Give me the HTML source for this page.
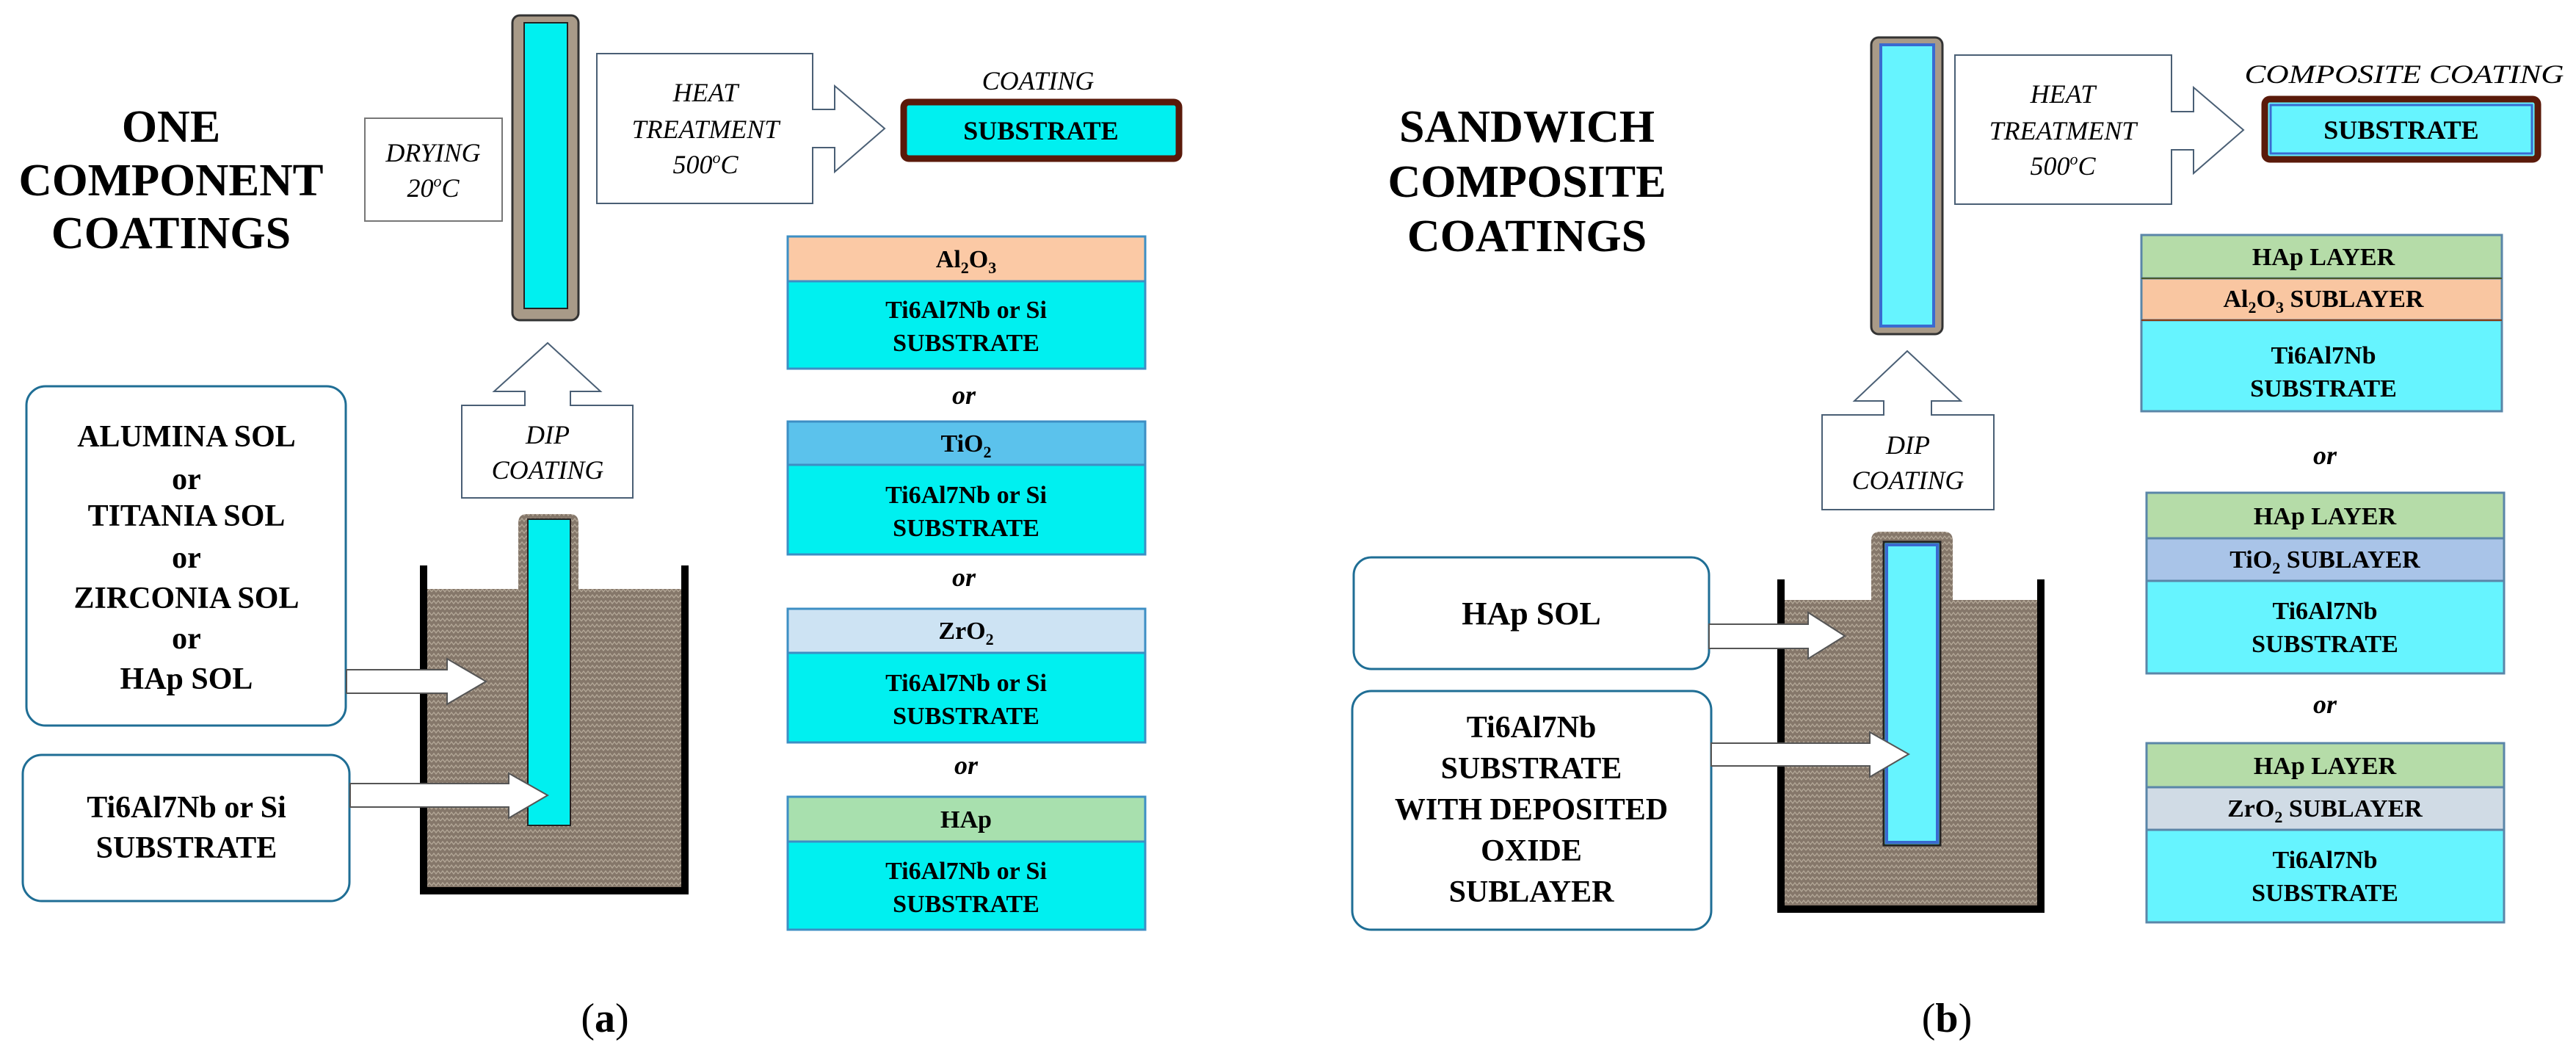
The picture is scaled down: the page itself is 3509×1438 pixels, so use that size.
<!DOCTYPE html>
<html><head><meta charset="utf-8"><style>
html,body{margin:0;padding:0;background:#fff;}
svg{display:block;font-family:"Liberation Serif","DejaVu Serif",serif;}
svg text{font-family:"Liberation Serif","DejaVu Serif",serif;}
.b{font-weight:bold;}
.i{font-style:italic;}
</style></head><body>
<svg width="3509" height="1438" viewBox="0 0 3509 1438" xmlns="http://www.w3.org/2000/svg" font-family="Liberation Serif, DejaVu Serif, serif">
<defs>
<pattern id="liq" width="12" height="8" patternUnits="userSpaceOnUse">
<rect width="12" height="8" fill="#85776a"/>
<path d="M0 6 L3 2 L6 6 L9 2 L12 6" fill="none" stroke="#b3a797" stroke-width="1.3"/>
</pattern>
</defs>

<!-- ================= LEFT PANEL (a) ================= -->
<g text-anchor="middle">
<text x="233" y="193" font-size="62" class="b">ONE</text>
<text x="233" y="266" font-size="62" class="b" textLength="415" lengthAdjust="spacingAndGlyphs">COMPONENT</text>
<text x="233" y="338" font-size="62" class="b">COATINGS</text>
</g>

<rect x="497" y="161" width="187" height="140" fill="#fff" stroke="#777" stroke-width="2"/>
<text x="590" y="220" font-size="36" class="i" text-anchor="middle">DRYING</text>
<text x="590" y="268" font-size="36" class="i" text-anchor="middle">20<tspan font-size="22" dy="-14">o</tspan><tspan dy="14">C</tspan></text>

<rect x="698" y="21" width="90" height="415" rx="10" fill="#a89a88" stroke="#333" stroke-width="3"/>
<rect x="714" y="31" width="59" height="389" fill="#00f0f0" stroke="#222" stroke-width="2"/>

<path d="M813 73 L1107 73 L1107 149 L1137 149 L1137 117 L1205 175 L1137 234 L1137 201 L1107 201 L1107 277 L813 277 Z" fill="#fff" stroke="#4a5f75" stroke-width="2"/>
<g text-anchor="middle" font-size="36">
<text x="961" y="138" class="i">HEAT</text>
<text x="961" y="188" class="i">TREATMENT</text>
<text x="961" y="236" class="i">500<tspan font-size="22" dy="-14">o</tspan><tspan dy="14">C</tspan></text>
</g>

<text x="1414" y="122" font-size="36" class="i" text-anchor="middle">COATING</text>
<rect x="1231" y="139" width="375" height="77" rx="7" fill="#00f0f0" stroke="#5a1a0a" stroke-width="9"/>
<text x="1418" y="190" font-size="36" class="b" text-anchor="middle">SUBSTRATE</text>

<g stroke="#3d8fc4" stroke-width="3">
<rect x="1073" y="322" width="487" height="61" fill="#fbc9a5"/>
<rect x="1073" y="383" width="487" height="119" fill="#00f0f0"/>
<rect x="1073" y="574" width="487" height="59" fill="#5bc2ec"/>
<rect x="1073" y="633" width="487" height="122" fill="#00f0f0"/>
<rect x="1073" y="829" width="487" height="60" fill="#cde3f3"/>
<rect x="1073" y="889" width="487" height="122" fill="#00f0f0"/>
<rect x="1073" y="1085" width="487" height="61" fill="#a8e0ae"/>
<rect x="1073" y="1146" width="487" height="120" fill="#00f0f0"/>
</g>
<g text-anchor="middle" font-size="34">
<text x="1316" y="364" class="b">Al<tspan font-size="22" dy="8">2</tspan><tspan dy="-8">O</tspan><tspan font-size="22" dy="8">3</tspan></text>
<text x="1316" y="433" class="b">Ti6Al7Nb or Si</text>
<text x="1316" y="478" class="b">SUBSTRATE</text>
<text x="1316" y="615" class="b">TiO<tspan font-size="22" dy="8">2</tspan></text>
<text x="1316" y="685" class="b">Ti6Al7Nb or Si</text>
<text x="1316" y="730" class="b">SUBSTRATE</text>
<text x="1316" y="870" class="b">ZrO<tspan font-size="22" dy="8">2</tspan></text>
<text x="1316" y="941" class="b">Ti6Al7Nb or Si</text>
<text x="1316" y="986" class="b">SUBSTRATE</text>
<text x="1316" y="1127" class="b">HAp</text>
<text x="1316" y="1197" class="b">Ti6Al7Nb or Si</text>
<text x="1316" y="1242" class="b">SUBSTRATE</text>
</g>
<g text-anchor="middle" font-size="36">
<text x="1313" y="550" class="b i">or</text>
<text x="1313" y="798" class="b i">or</text>
<text x="1316" y="1054" class="b i">or</text>
</g>

<path d="M746 467 L818 533 L777 533 L777 552 L862 552 L862 678 L629 678 L629 552 L715 552 L715 533 L673 533 Z" fill="#fff" stroke="#4a5f75" stroke-width="2"/>
<text x="746" y="604" font-size="36" class="i" text-anchor="middle">DIP</text>
<text x="746" y="652" font-size="36" class="i" text-anchor="middle">COATING</text>

<rect x="582" y="802" width="347" height="407" fill="url(#liq)"/>
<path d="M706 802 L706 712 Q706 700 718 700 L776 700 Q788 700 788 712 L788 802 Z" fill="url(#liq)"/>
<path d="M577 770 L577 1213 L933 1213 L933 770" fill="none" stroke="#000" stroke-width="10"/>
<rect x="719" y="707" width="58" height="417" fill="#00f0f0" stroke="#222" stroke-width="2"/>

<rect x="36" y="526" width="435" height="462" rx="26" fill="#fff" stroke="#1f6e95" stroke-width="3"/>
<g text-anchor="middle" font-size="42">
<text x="254" y="608" class="b">ALUMINA SOL</text>
<text x="254" y="666" class="b">or</text>
<text x="254" y="716" class="b">TITANIA SOL</text>
<text x="254" y="773" class="b">or</text>
<text x="254" y="828" class="b">ZIRCONIA SOL</text>
<text x="254" y="883" class="b">or</text>
<text x="254" y="938" class="b">HAp SOL</text>
</g>
<rect x="31" y="1028" width="445" height="199" rx="26" fill="#fff" stroke="#1f6e95" stroke-width="3"/>
<text x="254" y="1113" font-size="42" class="b" text-anchor="middle">Ti6Al7Nb or Si</text>
<text x="254" y="1168" font-size="42" class="b" text-anchor="middle">SUBSTRATE</text>

<path d="M472 912 L609 912 L609 897 L662 928 L609 959 L609 944 L472 944 Z" fill="#fff" stroke="#555" stroke-width="2"/>
<path d="M477 1067 L693 1067 L693 1053 L746 1083 L693 1114 L693 1099 L477 1099 Z" fill="#fff" stroke="#555" stroke-width="2"/>

<text x="824" y="1405" font-size="56" text-anchor="middle">(<tspan class="b">a</tspan>)</text>

<!-- ================= RIGHT PANEL (b) ================= -->
<g text-anchor="middle">
<text x="2080" y="193" font-size="62" class="b">SANDWICH</text>
<text x="2080" y="268" font-size="62" class="b">COMPOSITE</text>
<text x="2080" y="342" font-size="62" class="b">COATINGS</text>
</g>

<rect x="2549" y="51" width="97" height="404" rx="10" fill="#a89a88" stroke="#333" stroke-width="3"/>
<rect x="2562" y="61" width="72" height="383" fill="#66f4ff" stroke="#3a6ad0" stroke-width="4"/>

<path d="M2663 75 L2958 75 L2958 152 L2988 152 L2988 119 L3056 177 L2988 236 L2988 204 L2958 204 L2958 278 L2663 278 Z" fill="#fff" stroke="#4a5f75" stroke-width="2"/>
<g text-anchor="middle" font-size="36">
<text x="2810" y="140" class="i">HEAT</text>
<text x="2810" y="190" class="i">TREATMENT</text>
<text x="2810" y="238" class="i">500<tspan font-size="22" dy="-14">o</tspan><tspan dy="14">C</tspan></text>
</g>
<text x="3275" y="113" font-size="36" class="i" text-anchor="middle" textLength="435" lengthAdjust="spacingAndGlyphs">COMPOSITE COATING</text>
<rect x="3085" y="135" width="372" height="82" rx="7" fill="#66f4ff" stroke="#5a1a0a" stroke-width="9"/>
<rect x="3093" y="143" width="356" height="66" fill="none" stroke="#3a6ad0" stroke-width="3"/>
<text x="3271" y="189" font-size="36" class="b" text-anchor="middle">SUBSTRATE</text>

<g stroke="#5a86a8" stroke-width="3">
<rect x="2917" y="320" width="491" height="59" fill="#b5dca8"/>
<rect x="2917" y="379" width="491" height="57" fill="#f9c6a1"/>
<rect x="2917" y="436" width="491" height="124" fill="#66f4ff"/>
<rect x="2924" y="671" width="487" height="62" fill="#b5dca8"/>
<rect x="2924" y="733" width="487" height="58" fill="#a9c4e8"/>
<rect x="2924" y="791" width="487" height="126" fill="#66f4ff"/>
<rect x="2924" y="1012" width="487" height="60" fill="#b5dca8"/>
<rect x="2924" y="1072" width="487" height="58" fill="#d0dbe5"/>
<rect x="2924" y="1130" width="487" height="126" fill="#66f4ff"/>
</g>
<line x1="2917" y1="379" x2="3408" y2="379" stroke="#4a5a2a" stroke-width="2"/>
<line x1="2917" y1="436" x2="3408" y2="436" stroke="#8a3a10" stroke-width="2"/>
<g text-anchor="middle" font-size="34">
<text x="3165" y="361" class="b">HAp LAYER</text>
<text x="3165" y="418" class="b">Al<tspan font-size="22" dy="8">2</tspan><tspan dy="-8">O</tspan><tspan font-size="22" dy="8">3</tspan><tspan dy="-8"> SUBLAYER</tspan></text>
<text x="3165" y="495" class="b">Ti6Al7Nb</text>
<text x="3165" y="540" class="b">SUBSTRATE</text>
<text x="3167" y="714" class="b">HAp LAYER</text>
<text x="3167" y="773" class="b">TiO<tspan font-size="22" dy="8">2</tspan><tspan dy="-8"> SUBLAYER</tspan></text>
<text x="3167" y="843" class="b">Ti6Al7Nb</text>
<text x="3167" y="888" class="b">SUBSTRATE</text>
<text x="3167" y="1054" class="b">HAp LAYER</text>
<text x="3167" y="1112" class="b">ZrO<tspan font-size="22" dy="8">2</tspan><tspan dy="-8"> SUBLAYER</tspan></text>
<text x="3167" y="1182" class="b">Ti6Al7Nb</text>
<text x="3167" y="1227" class="b">SUBSTRATE</text>
</g>
<text x="3167" y="632" font-size="36" class="b i" text-anchor="middle">or</text>
<text x="3167" y="971" font-size="36" class="b i" text-anchor="middle">or</text>

<path d="M2598 478 L2671 546 L2631 546 L2631 565 L2716 565 L2716 694 L2482 694 L2482 565 L2566 565 L2566 546 L2526 546 Z" fill="#fff" stroke="#4a5f75" stroke-width="2"/>
<text x="2599" y="618" font-size="36" class="i" text-anchor="middle">DIP</text>
<text x="2599" y="666" font-size="36" class="i" text-anchor="middle">COATING</text>

<rect x="2431" y="817" width="345" height="417" fill="url(#liq)"/>
<path d="M2549 817 L2549 736 Q2549 724 2561 724 L2648 724 Q2660 724 2660 736 L2660 817 Z" fill="url(#liq)"/>
<path d="M2426 789 L2426 1238 L2780 1238 L2780 789" fill="none" stroke="#000" stroke-width="10"/>
<rect x="2566" y="738" width="77" height="413" fill="#66f4ff" stroke="#222" stroke-width="3"/>
<rect x="2570" y="742" width="69" height="405" fill="none" stroke="#3a6ad0" stroke-width="4"/>

<rect x="1844" y="759" width="484" height="152" rx="24" fill="#fff" stroke="#1f6e95" stroke-width="3"/>
<text x="2086" y="850" font-size="44" class="b" text-anchor="middle">HAp SOL</text>
<rect x="1842" y="941" width="489" height="325" rx="26" fill="#fff" stroke="#1f6e95" stroke-width="3"/>
<g text-anchor="middle" font-size="42">
<text x="2086" y="1004" class="b">Ti6Al7Nb</text>
<text x="2086" y="1060" class="b">SUBSTRATE</text>
<text x="2086" y="1116" class="b">WITH DEPOSITED</text>
<text x="2086" y="1172" class="b">OXIDE</text>
<text x="2086" y="1228" class="b">SUBLAYER</text>
</g>

<path d="M2328 850 L2463 850 L2463 834 L2513 866 L2463 897 L2463 883 L2328 883 Z" fill="#fff" stroke="#555" stroke-width="2"/>
<path d="M2331 1012 L2547 1012 L2547 997 L2600 1027 L2547 1058 L2547 1043 L2331 1043 Z" fill="#fff" stroke="#555" stroke-width="2"/>

<text x="2652" y="1405" font-size="56" text-anchor="middle">(<tspan class="b">b</tspan>)</text>
</svg>
</body></html>
